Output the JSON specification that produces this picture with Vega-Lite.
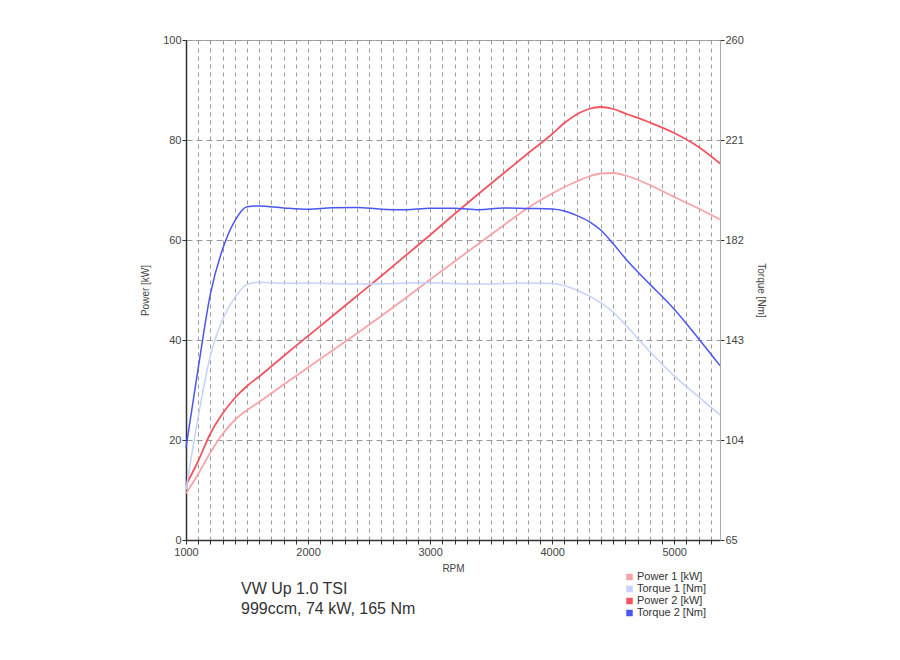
{
  "$schema": "https://vega.github.io/schema/vega-lite/v6.json",
  "width": 534,
  "height": 500,
  "autosize": {"type": "none"},
  "padding": {"left": 186, "top": 40, "right": 180, "bottom": 120},
  "background": "white",
  "config": {
    "font": "Liberation Sans",
    "view": {"stroke": "#aaaaaa", "strokeWidth": 1},
    "axis": {"labelFont": "Liberation Sans", "titleFont": "Liberation Sans", "labelColor": "#444444", "titleColor": "#444444", "titleFontWeight": "normal", "labelFontSize": 11, "titleFontSize": 10}
  },
  "title": {
    "text": "VW Up 1.0 TSI",
    "subtitle": "999ccm, 74 kW, 165 Nm",
    "orient": "bottom",
    "anchor": "start",
    "frame": "group",
    "dx": 55,
    "offset": -38,
    "fontSize": 16,
    "subtitleFontSize": 16,
    "fontWeight": "normal",
    "color": "#333333",
    "subtitleColor": "#333333",
    "font": "Liberation Sans",
    "subtitleFont": "Liberation Sans",
    "subtitlePadding": 4
  },
  "data": {
    "values": [
      {"rpm": 1000, "s": "Power 1 [kW]", "v": 9.3},
      {"rpm": 1100, "s": "Power 1 [kW]", "v": 13.2},
      {"rpm": 1200, "s": "Power 1 [kW]", "v": 17.5},
      {"rpm": 1300, "s": "Power 1 [kW]", "v": 21.2},
      {"rpm": 1400, "s": "Power 1 [kW]", "v": 24},
      {"rpm": 1500, "s": "Power 1 [kW]", "v": 26},
      {"rpm": 1600, "s": "Power 1 [kW]", "v": 27.6},
      {"rpm": 1800, "s": "Power 1 [kW]", "v": 31.1},
      {"rpm": 2000, "s": "Power 1 [kW]", "v": 34.5},
      {"rpm": 2200, "s": "Power 1 [kW]", "v": 37.9},
      {"rpm": 2400, "s": "Power 1 [kW]", "v": 41.3},
      {"rpm": 2600, "s": "Power 1 [kW]", "v": 44.8},
      {"rpm": 2800, "s": "Power 1 [kW]", "v": 48.4},
      {"rpm": 3000, "s": "Power 1 [kW]", "v": 52.1},
      {"rpm": 3200, "s": "Power 1 [kW]", "v": 55.7},
      {"rpm": 3400, "s": "Power 1 [kW]", "v": 59.3},
      {"rpm": 3600, "s": "Power 1 [kW]", "v": 62.9},
      {"rpm": 3800, "s": "Power 1 [kW]", "v": 66.4},
      {"rpm": 4000, "s": "Power 1 [kW]", "v": 69.3},
      {"rpm": 4100, "s": "Power 1 [kW]", "v": 70.6},
      {"rpm": 4200, "s": "Power 1 [kW]", "v": 71.7},
      {"rpm": 4300, "s": "Power 1 [kW]", "v": 72.7},
      {"rpm": 4400, "s": "Power 1 [kW]", "v": 73.3},
      {"rpm": 4500, "s": "Power 1 [kW]", "v": 73.4},
      {"rpm": 4600, "s": "Power 1 [kW]", "v": 72.9},
      {"rpm": 4800, "s": "Power 1 [kW]", "v": 71},
      {"rpm": 5000, "s": "Power 1 [kW]", "v": 68.6},
      {"rpm": 5200, "s": "Power 1 [kW]", "v": 66.3},
      {"rpm": 5375, "s": "Power 1 [kW]", "v": 64.1},

      {"rpm": 1000, "s": "Power 2 [kW]", "v": 11},
      {"rpm": 1100, "s": "Power 2 [kW]", "v": 15.8},
      {"rpm": 1200, "s": "Power 2 [kW]", "v": 21.3},
      {"rpm": 1300, "s": "Power 2 [kW]", "v": 25.3},
      {"rpm": 1400, "s": "Power 2 [kW]", "v": 28.4},
      {"rpm": 1500, "s": "Power 2 [kW]", "v": 30.8},
      {"rpm": 1600, "s": "Power 2 [kW]", "v": 32.7},
      {"rpm": 1800, "s": "Power 2 [kW]", "v": 36.8},
      {"rpm": 2000, "s": "Power 2 [kW]", "v": 40.8},
      {"rpm": 2200, "s": "Power 2 [kW]", "v": 44.8},
      {"rpm": 2400, "s": "Power 2 [kW]", "v": 48.8},
      {"rpm": 2600, "s": "Power 2 [kW]", "v": 52.8},
      {"rpm": 2800, "s": "Power 2 [kW]", "v": 56.9},
      {"rpm": 3000, "s": "Power 2 [kW]", "v": 61},
      {"rpm": 3200, "s": "Power 2 [kW]", "v": 65.2},
      {"rpm": 3400, "s": "Power 2 [kW]", "v": 69.3},
      {"rpm": 3600, "s": "Power 2 [kW]", "v": 73.3},
      {"rpm": 3800, "s": "Power 2 [kW]", "v": 77.3},
      {"rpm": 4000, "s": "Power 2 [kW]", "v": 81.2},
      {"rpm": 4100, "s": "Power 2 [kW]", "v": 83.4},
      {"rpm": 4200, "s": "Power 2 [kW]", "v": 85.1},
      {"rpm": 4300, "s": "Power 2 [kW]", "v": 86.2},
      {"rpm": 4400, "s": "Power 2 [kW]", "v": 86.6},
      {"rpm": 4500, "s": "Power 2 [kW]", "v": 86.2},
      {"rpm": 4600, "s": "Power 2 [kW]", "v": 85.3},
      {"rpm": 4800, "s": "Power 2 [kW]", "v": 83.5},
      {"rpm": 5000, "s": "Power 2 [kW]", "v": 81.4},
      {"rpm": 5200, "s": "Power 2 [kW]", "v": 78.6},
      {"rpm": 5375, "s": "Power 2 [kW]", "v": 75.3},

      {"rpm": 1000, "s": "Torque 1 [Nm]", "v": 84.5},
      {"rpm": 1100, "s": "Torque 1 [Nm]", "v": 113},
      {"rpm": 1200, "s": "Torque 1 [Nm]", "v": 137},
      {"rpm": 1300, "s": "Torque 1 [Nm]", "v": 151},
      {"rpm": 1400, "s": "Torque 1 [Nm]", "v": 159.5},
      {"rpm": 1500, "s": "Torque 1 [Nm]", "v": 164.7},
      {"rpm": 1600, "s": "Torque 1 [Nm]", "v": 165.5},
      {"rpm": 1800, "s": "Torque 1 [Nm]", "v": 165.1},
      {"rpm": 2000, "s": "Torque 1 [Nm]", "v": 165.2},
      {"rpm": 2200, "s": "Torque 1 [Nm]", "v": 165},
      {"rpm": 2400, "s": "Torque 1 [Nm]", "v": 164.8},
      {"rpm": 2600, "s": "Torque 1 [Nm]", "v": 164.9},
      {"rpm": 2800, "s": "Torque 1 [Nm]", "v": 165.2},
      {"rpm": 3000, "s": "Torque 1 [Nm]", "v": 165.3},
      {"rpm": 3200, "s": "Torque 1 [Nm]", "v": 165},
      {"rpm": 3400, "s": "Torque 1 [Nm]", "v": 164.8},
      {"rpm": 3600, "s": "Torque 1 [Nm]", "v": 165},
      {"rpm": 3800, "s": "Torque 1 [Nm]", "v": 165.2},
      {"rpm": 4000, "s": "Torque 1 [Nm]", "v": 165},
      {"rpm": 4100, "s": "Torque 1 [Nm]", "v": 164.2},
      {"rpm": 4200, "s": "Torque 1 [Nm]", "v": 162.5},
      {"rpm": 4300, "s": "Torque 1 [Nm]", "v": 160.2},
      {"rpm": 4400, "s": "Torque 1 [Nm]", "v": 157.5},
      {"rpm": 4500, "s": "Torque 1 [Nm]", "v": 153.8},
      {"rpm": 4600, "s": "Torque 1 [Nm]", "v": 149},
      {"rpm": 4700, "s": "Torque 1 [Nm]", "v": 143.7},
      {"rpm": 4800, "s": "Torque 1 [Nm]", "v": 138.5},
      {"rpm": 5000, "s": "Torque 1 [Nm]", "v": 129},
      {"rpm": 5200, "s": "Torque 1 [Nm]", "v": 120.8},
      {"rpm": 5375, "s": "Torque 1 [Nm]", "v": 113.8},

      {"rpm": 1000, "s": "Torque 2 [Nm]", "v": 101},
      {"rpm": 1100, "s": "Torque 2 [Nm]", "v": 132},
      {"rpm": 1200, "s": "Torque 2 [Nm]", "v": 161},
      {"rpm": 1300, "s": "Torque 2 [Nm]", "v": 178.5},
      {"rpm": 1400, "s": "Torque 2 [Nm]", "v": 189.5},
      {"rpm": 1500, "s": "Torque 2 [Nm]", "v": 195},
      {"rpm": 1600, "s": "Torque 2 [Nm]", "v": 195.3},
      {"rpm": 1800, "s": "Torque 2 [Nm]", "v": 194.5},
      {"rpm": 2000, "s": "Torque 2 [Nm]", "v": 194},
      {"rpm": 2200, "s": "Torque 2 [Nm]", "v": 194.6},
      {"rpm": 2400, "s": "Torque 2 [Nm]", "v": 194.7},
      {"rpm": 2600, "s": "Torque 2 [Nm]", "v": 194},
      {"rpm": 2800, "s": "Torque 2 [Nm]", "v": 193.8},
      {"rpm": 3000, "s": "Torque 2 [Nm]", "v": 194.4},
      {"rpm": 3200, "s": "Torque 2 [Nm]", "v": 194.4},
      {"rpm": 3400, "s": "Torque 2 [Nm]", "v": 193.8},
      {"rpm": 3600, "s": "Torque 2 [Nm]", "v": 194.5},
      {"rpm": 3800, "s": "Torque 2 [Nm]", "v": 194.3},
      {"rpm": 4000, "s": "Torque 2 [Nm]", "v": 194.1},
      {"rpm": 4100, "s": "Torque 2 [Nm]", "v": 193.3},
      {"rpm": 4200, "s": "Torque 2 [Nm]", "v": 191.6},
      {"rpm": 4300, "s": "Torque 2 [Nm]", "v": 189.3},
      {"rpm": 4400, "s": "Torque 2 [Nm]", "v": 185.8},
      {"rpm": 4500, "s": "Torque 2 [Nm]", "v": 180.5},
      {"rpm": 4600, "s": "Torque 2 [Nm]", "v": 174.8},
      {"rpm": 4700, "s": "Torque 2 [Nm]", "v": 169.6},
      {"rpm": 4800, "s": "Torque 2 [Nm]", "v": 164.8},
      {"rpm": 5000, "s": "Torque 2 [Nm]", "v": 155},
      {"rpm": 5200, "s": "Torque 2 [Nm]", "v": 143.5},
      {"rpm": 5375, "s": "Torque 2 [Nm]", "v": 133}
    ]
  },
  "encoding": {
    "x": {
      "field": "rpm",
      "type": "quantitative",
      "scale": {"domain": [1000, 5375], "nice": false, "zero": false},
      "axis": {
        "title": "RPM",
        "values": [1000,1100,1200,1300,1400,1500,1600,1700,1800,1900,2000,2100,2200,2300,2400,2500,2600,2700,2800,2900,3000,3100,3200,3300,3400,3500,3600,3700,3800,3900,4000,4100,4200,4300,4400,4500,4600,4700,4800,4900,5000,5100,5200,5300],
        "format": "d",
        "labelExpr": "datum.value % 1000 === 0 ? datum.label : ''",
        "labelFlush": false,
        "labelOverlap": false,
        "domainColor": "#333333",
        "domainWidth": 1.5,
        "tickColor": "#333333",
        "tickSize": 4,
        "grid": true,
        "gridColor": "#999999",
        "gridDash": [4, 4],
        "gridWidth": 1,
        "labelPadding": 2,
        "titlePadding": 6
      }
    },
    "color": {
      "field": "s",
      "type": "nominal",
      "scale": {
        "domain": ["Power 1 [kW]", "Torque 1 [Nm]", "Power 2 [kW]", "Torque 2 [Nm]"],
        "range": ["#f7a4a8", "#c4d2fc", "#f25560", "#4a56f0"]
      },
      "legend": {
        "title": null,
        "orient": "none",
        "legendX": 438,
        "legendY": 531,
        "symbolType": "square",
        "symbolSize": 9,
        "symbolStrokeWidth": 3.5,
        "labelFontSize": 11,
        "labelColor": "#333333",
        "labelFont": "Liberation Sans",
        "rowPadding": 0,
        "clipHeight": 12,
        "labelOffset": 2
      }
    }
  },
  "layer": [
    {
      "transform": [{"filter": "indexof(datum.s, 'Power') === 0"}],
      "mark": {"type": "line", "interpolate": "monotone", "strokeWidth": 1.8},
      "encoding": {
        "y": {
          "field": "v",
          "type": "quantitative",
          "scale": {"domain": [0, 100], "nice": false},
          "axis": {
            "title": "Power [kW]",
            "values": [0, 20, 40, 60, 80, 100],
            "grid": true,
            "gridColor": "#999999",
            "gridDash": [6, 4],
            "domainColor": "#333333",
            "domainWidth": 1.5,
            "tickColor": "#333333",
            "tickSize": 4,
            "labelPadding": 1,
            "titlePadding": 12
          }
        }
      }
    },
    {
      "transform": [{"filter": "indexof(datum.s, 'Torque') === 0"}],
      "mark": {"type": "line", "interpolate": "monotone", "strokeWidth": 1.5},
      "encoding": {
        "y": {
          "field": "v",
          "type": "quantitative",
          "scale": {"domain": [65, 260], "nice": false, "zero": false},
          "axis": {
            "title": "Torque [Nm]",
            "orient": "right",
            "values": [65, 104, 143, 182, 221, 260],
            "grid": false,
            "domainColor": "#aaaaaa",
            "tickColor": "#333333",
            "tickSize": 4,
            "labelPadding": 1,
            "titlePadding": 12
          }
        }
      }
    }
  ],
  "resolve": {"scale": {"y": "independent"}}
}
